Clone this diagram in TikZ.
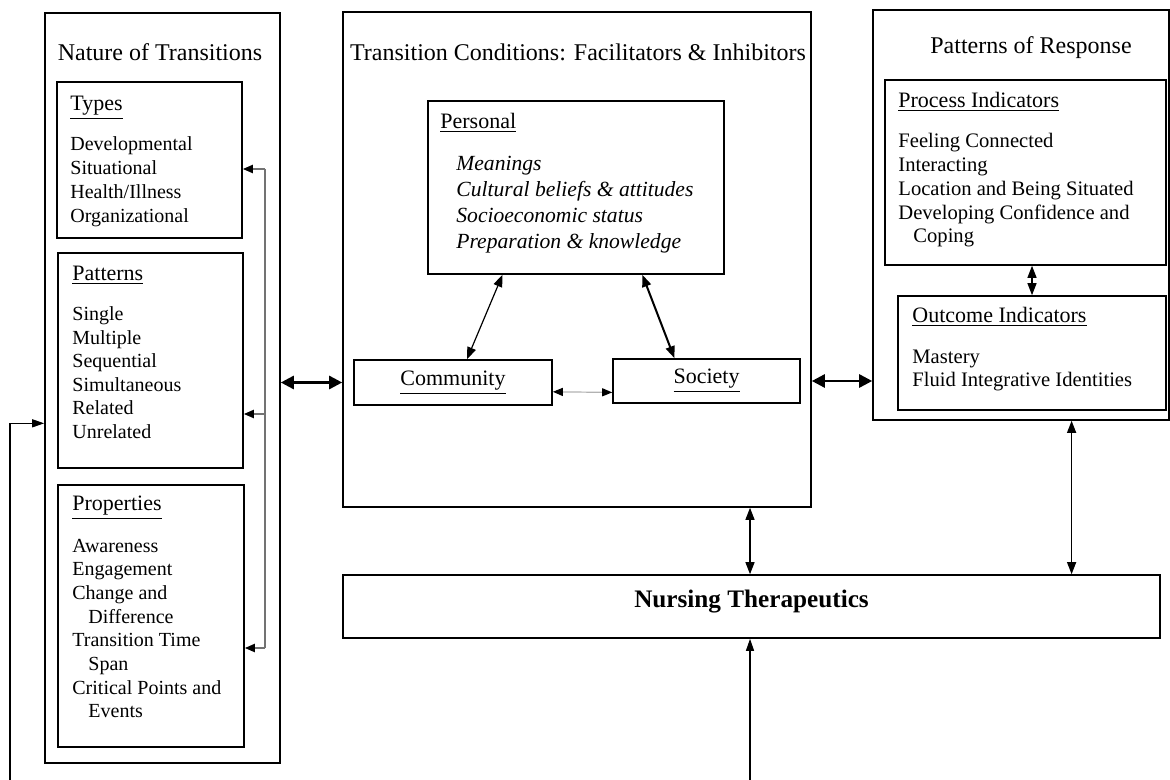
\documentclass[tikz,border=0pt]{standalone}
\usepackage{fontspec}
\setmainfont{Liberation Serif}
\usepackage{tikz}
\usetikzlibrary{arrows.meta,positioning,calc,fit}

\begin{document}
\begin{tikzpicture}[x=0.5pt,y=-0.5pt,
  frame/.style={draw, line width=0.8pt, inner sep=0pt},
  title/.style={font=\fontsize{12}{14}\selectfont},
  head/.style={anchor=west, inner sep=0pt, text height=7.5pt, text depth=2pt, font=\fontsize{11}{13}\selectfont},
  item/.style={anchor=west, inner sep=0pt, text height=7pt, text depth=2pt, font=\fontsize{10}{12}\selectfont},
  big/.style={{Triangle[length=6.5pt,width=6.5pt]}-{Triangle[length=6.5pt,width=6.5pt]}, line width=1.3pt},
  dbl/.style={{Triangle[length=6pt,width=4.5pt]}-{Triangle[length=6pt,width=4.5pt]}, line width=0.6pt},
  one/.style={-{Triangle[length=6pt,width=4pt]}, line width=0.6pt},
  brk/.style={-{Triangle[length=5pt,width=4pt,color=black]}, black!55, line width=1pt}]
\useasboundingbox (0,0) rectangle (1170,780);

% nature of transitions
\node[frame, fit={(45,13) (280,763)}] (nat) {};
\node[title] (natt) at (160,52) {Nature of Transitions};
\node[frame, fit={(57,82) (242,238)}] (typ) {};
\node[frame, fit={(58,253) (243,468)}] (pat) {};
\node[frame, fit={(58,485) (244,747)}] (pro) {};
\node[head] (typh) at (70,105) {\underline{Types}};
\node[head] (path) at (72,275) {\underline{Patterns}};
\node[head] (proh) at (72,505) {\underline{Properties}};
\foreach \i/\lab in {1/Developmental,2/Situational,3/{Health/Illness},4/Organizational}
  \node[item] (typ-\i) at (70,{146+(\i-1)*23.7}) {\lab};
\foreach \i/\lab in {1/Single,2/Multiple,3/Sequential,4/Simultaneous,5/Related,6/Unrelated}
  \node[item] (pat-\i) at (72,{316+(\i-1)*23.4}) {\lab};
\foreach \i/\dx/\lab in {1/0/Awareness,2/0/Engagement,3/0/Change and,4/1/Difference,
  5/0/Transition Time,6/1/Span,7/0/Critical Points and,8/1/Events}
  \node[item] (pro-\i) at ({72+16*\dx},{547+(\i-1)*23.7}) {\lab};

% transition conditions
\node[frame, fit={(343,12) (811,507)}] (cond) {};
\node[title] (condt) at (578,52) {Transition Conditions: Facilitators \& Inhibitors};
\node[frame, fit={(428,101) (724,274)}] (per) {};
\node[head] (perh) at (440,123) {\underline{Personal}};
\foreach \i/\lab in {1/Meanings,2/Cultural beliefs \& attitudes,3/Socioeconomic status,4/Preparation \& knowledge}
  \node[item, font=\fontsize{10.8}{13}\selectfont\itshape] (per-\i) at (456,{166+(\i-1)*25.7}) {\lab};
\node[frame, minimum width=99pt, minimum height=22.5pt, font=\fontsize{11}{13}\selectfont] (com) at (453,382.5) {\underline{Community}};
\node[frame, minimum width=93.5pt, minimum height=22pt, font=\fontsize{11}{13}\selectfont] (soc) at (706.5,381) {\underline{Society}};

% patterns of response
\node[frame, fit={(873,10) (1169,420)}] (resp) {};
\node[title] (respt) at (1031,48) {Patterns of Response};
\node[frame, fit={(885,80) (1166,265)}] (proc) {};
\node[frame, fit={(898,296) (1166,410)}] (outc) {};
\node[head] (proch) at (898,102) {\underline{Process Indicators}};
\node[head] (outch) at (912,317) {\underline{Outcome Indicators}};
\foreach \i/\dx/\lab in {1/0/Feeling Connected,2/0/Interacting,3/0/Location and Being Situated,
  4/0/Developing Confidence and,5/1/Coping}
  \node[item, font=\fontsize{10.3}{12}\selectfont] (proc-\i) at ({898+15*\dx},{143+(\i-1)*23.75}) {\lab};
\foreach \i/\lab in {1/Mastery,2/Fluid Integrative Identities}
  \node[item, font=\fontsize{10.3}{12}\selectfont] (outc-\i) at (912,{358+(\i-1)*23}) {\lab};

% nursing therapeutics
\node[frame, fit={(343,575) (1160,638)}] (nur) {};
\node[font=\fontsize{12.6}{14}\selectfont\bfseries] (nurt) at (751.5,602) {Nursing Therapeutics};

% connectors
\draw[big] (nat.east |- com.west) -- (cond.west |- com.west);
\draw[big] (cond.east |- soc.east) -- (resp.west |- soc.east);
\draw[dbl] ($(per.south west)!.253!(per.south east)$) -- ($(com.north west)!.57!(com.north east)$);
\draw[dbl, line width=1pt] ($(per.south west)!.723!(per.south east)$) -- ($(soc.north west)!.33!(soc.north east)$);
\draw[dbl, gray!60, {Triangle[length=5pt,width=4pt,color=black]}-{Triangle[length=5pt,width=4pt,color=black]}]
  ($(com.north east)!.7!(com.south east)$) -- ($(soc.north west)!.75!(soc.south west)$);
\draw[dbl] (proc.south -| outc.north) -- (outc.north);

\coordinate (brt) at (265,169);
\coordinate (brm) at (265,414);
\coordinate (brb) at (265,648);
\draw[black!55, line width=1pt] (brt) -- (brb);
\foreach \c/\b in {brt/typ,brm/pat,brb/pro}
  \draw[brk] (\c) -- (\b.east |- \c);

\coordinate (fb) at (10,780);
\draw[one] (fb) |- ($(nat.north west)!.547!(nat.south west)$);
\coordinate (nb) at (750,780);
\draw[one] (nb) -- (nur.south -| nb);
\draw[dbl] (cond.south -| nb) -- (nur.north -| nb);
\coordinate (rn) at ($(resp.south west)!.67!(resp.south east)$);
\draw[dbl] (rn) -- (nur.north -| rn);
\end{tikzpicture}
\end{document}
